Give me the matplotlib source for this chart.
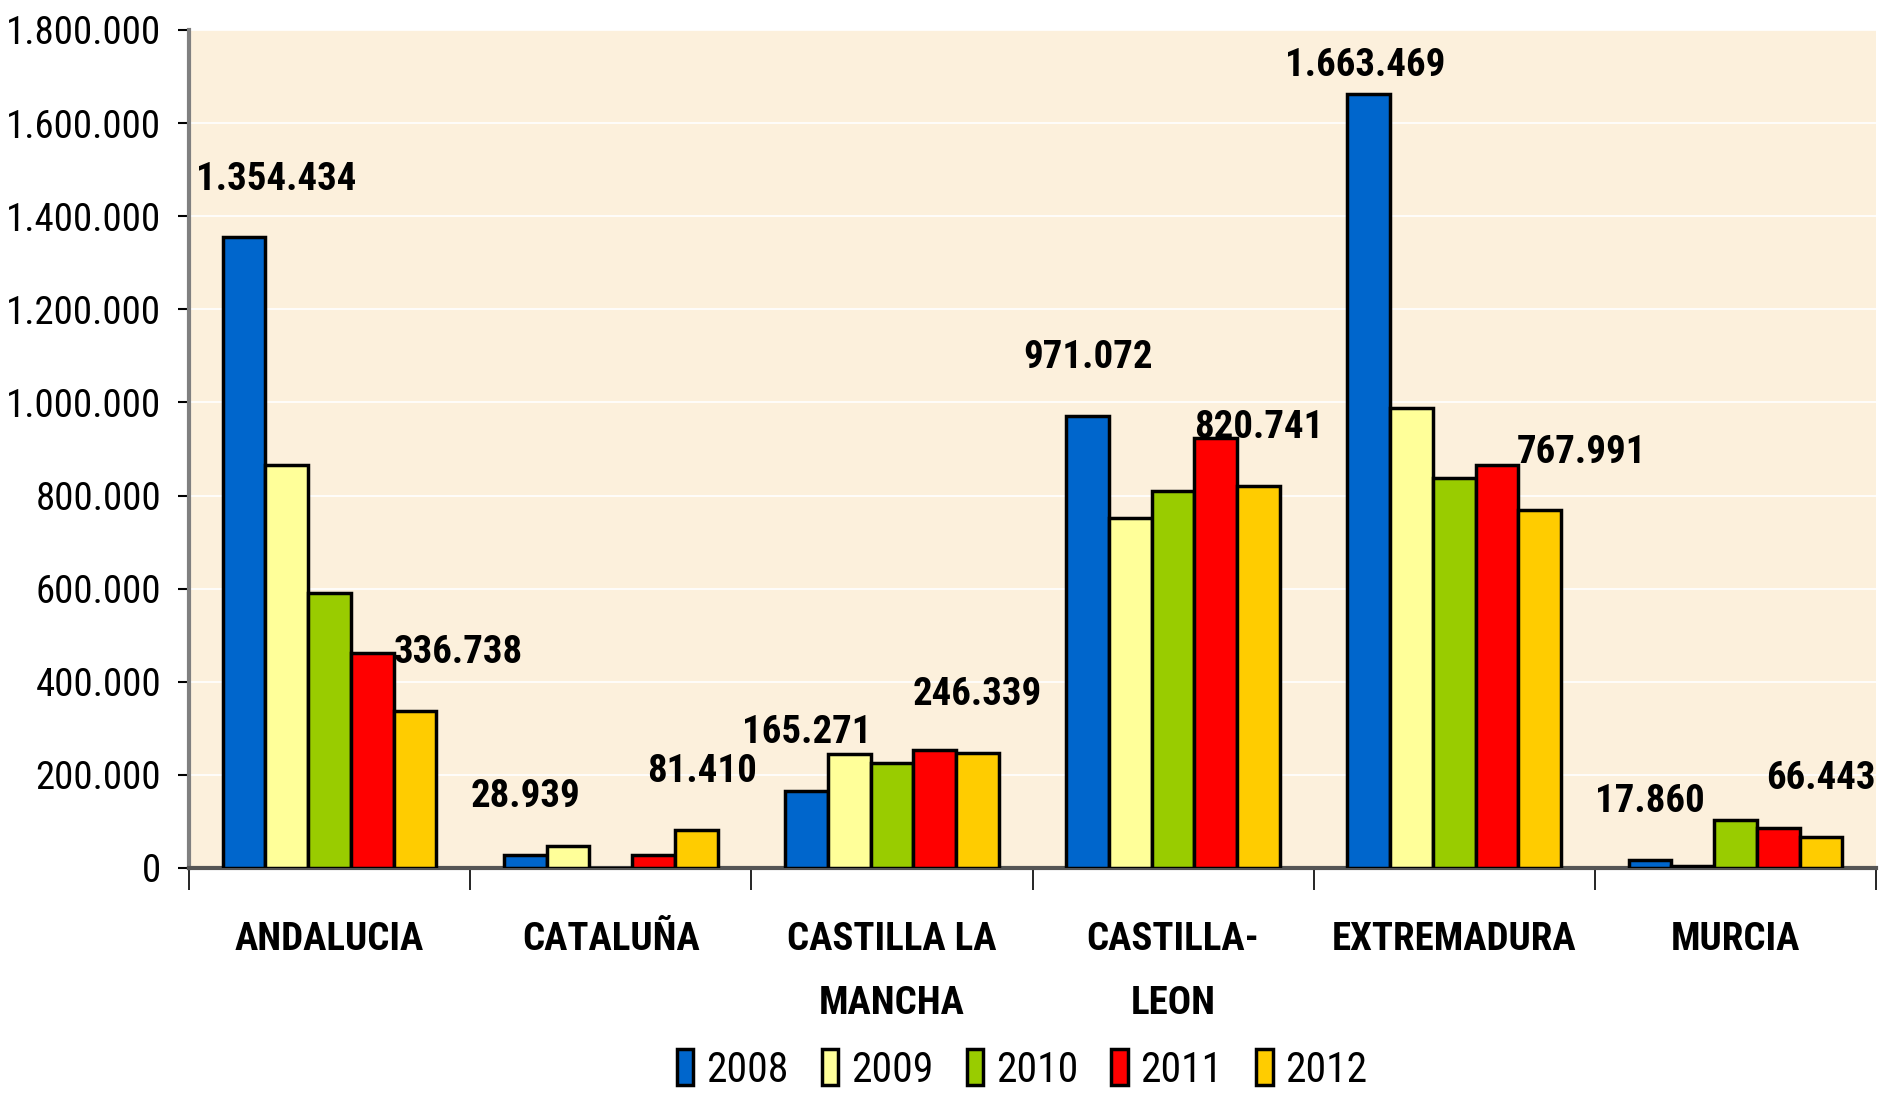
import matplotlib.pyplot as plt
import numpy as np

plt.rcParams['font.family'] = ['Roboto Condensed', 'Liberation Sans', 'DejaVu Sans']

regions = ["ANDALUCIA", "CATALUÑA", "CASTILLA LA\nMANCHA", "CASTILLA-\nLEON", "EXTREMADURA", "MURCIA"]
years = ["2008", "2009", "2010", "2011", "2012"]
v2008 = [1354434, 28939, 165271, 971072, 1663469, 17860]
v2009 = [866000, 47000, 244000, 752000, 988000, 5000]
v2010 = [591000, 0, 226000, 809000, 838000, 104000]
v2011 = [461000, 28000, 254000, 923000, 866000, 86000]
v2012 = [336738, 81410, 246339, 820741, 767991, 66443]
series = [v2008, v2009, v2010, v2011, v2012]
colors = ["#0066CC", "#FFFF99", "#99CC00", "#FF0000", "#FFCC00"]

def fmt(v):
    return f"{v:,}".replace(",", ".")

fig = plt.figure(figsize=(18.92, 10.95), dpi=100)
ax = fig.add_axes([189/1892, 1 - 868/1095, (1876-189)/1892, (868-30)/1095])
ax.set_facecolor("#FCF0DC")

x = np.arange(len(regions))
w = 0.152
for i, (vals, c, y) in enumerate(zip(series, colors, years)):
    ax.bar(x + (i - 2) * w, vals, w, color=c, edgecolor="black", linewidth=2.5,
           label=y, zorder=3)

# value labels on first and last year of each region (x nudges in px)
nudge = {(0, 0): 32, (0, 4): 43, (4, 4): 42, (4, 0): -4, (1, 4): 6}
for j in range(len(regions)):
    for i in (0, 4):
        v = series[i][j]
        dy = 20 if v > 1.6e6 else 42
        ax.annotate(fmt(v), (x[j] + (i - 2) * w, v),
                    xytext=(nudge.get((j, i), 0) * 0.72, dy),
                    textcoords="offset points", ha="center", va="center",
                    fontsize=28, fontweight="bold", zorder=5)

ax.set_xlim(-0.5, 5.5)
ax.set_ylim(0, 1800000)
yt = np.arange(0, 1800001, 200000)
ax.set_yticks(yt)
ax.set_yticklabels([fmt(int(t)) for t in yt], fontsize=28)
ax.yaxis.grid(True, color="white", linewidth=1.2, zorder=0)
ax.tick_params(axis="y", length=8, width=1.5, pad=12)

ax.set_xticks(x)
ax.set_xticklabels(regions, fontsize=28, fontweight="bold", linespacing=1.95, va="top")
ax.tick_params(axis="x", length=0, pad=38)
ax.set_xticks(np.arange(-0.5, 6, 1), minor=True)
ax.tick_params(axis="x", which="minor", length=16, width=1.2)

for s in ("top", "right"):
    ax.spines[s].set_visible(False)
ax.spines["left"].set_color("#808080")
ax.spines["left"].set_linewidth(3)
ax.spines["bottom"].set_color("#555555")
ax.spines["bottom"].set_linewidth(3)

fig.legend(loc="center", bbox_to_anchor=(1022/1892, 1 - 1070/1095), ncol=5,
           frameon=False, fontsize=30, handlelength=0.4, handleheight=0.95,
           handletextpad=0.3, columnspacing=0.8, borderaxespad=0)

fig.savefig("out.png", dpi=100)
